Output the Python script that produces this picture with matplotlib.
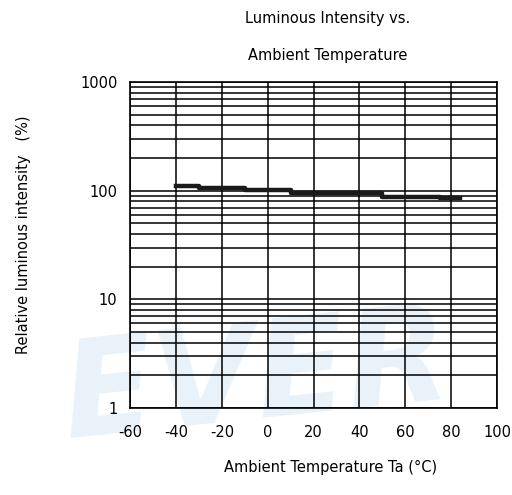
import matplotlib
matplotlib.use('Agg')
import matplotlib.pyplot as plt
from matplotlib.ticker import LogLocator, FixedLocator, NullFormatter

plt.rcParams['axes.unicode_minus'] = False

# Step curve
temp = [-40, -30, -10, 10, 50, 75, 84]
intensity = [111, 106, 102, 95, 88, 85, 85]

x_ticks = [-60, -40, -20, 0, 20, 40, 60, 80, 100]
y_ticks = [1, 10, 100, 1000]
y_labels = ['1', '10', '100', '1000']

fig = plt.figure(figsize=(5.12, 4.95), dpi=100)

# faint watermark behind the chart
fig.text(0.5, 0.23, 'EVER', fontsize=96, fontweight='bold', style='italic',
         color='#eaf2f9', ha='center', va='center', rotation=6, zorder=0)

ax = fig.add_axes([0.254, 0.176, 0.717, 0.658])
ax.set_zorder(2)
ax.patch.set_alpha(0)
ax.set_yscale('log')
ax.set_xlim(-60, 100)
ax.set_ylim(1, 1000)

ax.xaxis.set_major_locator(FixedLocator(x_ticks))
ax.yaxis.set_major_locator(FixedLocator(y_ticks))
ax.yaxis.set_minor_locator(LogLocator(base=10, subs=range(2, 10)))
ax.yaxis.set_minor_formatter(NullFormatter())
ax.set_yticklabels(y_labels)

ax.grid(which='major', axis='both', color='black', linewidth=1.1)
ax.grid(which='minor', axis='y', color='black', linewidth=1.1)
ax.tick_params(which='both', length=0, labelsize=10.5)
ax.tick_params(axis='x', pad=12)
ax.tick_params(axis='y', pad=9)
for s in ax.spines.values():
    s.set_linewidth(1.2)

ax.plot(temp, intensity, drawstyle='steps-post', color='#1a1a1a', linewidth=3.2)

fig.text(0.64, 0.962, 'Luminous Intensity vs.', ha='center', va='center', fontsize=10.5)
fig.text(0.64, 0.888, 'Ambient Temperature', ha='center', va='center', fontsize=10.5)
fig.text(0.045, 0.525, 'Relative luminous intensity   (%)', ha='center', va='center',
         rotation=90, fontsize=10.5)
fig.text(0.645, 0.055, 'Ambient Temperature Ta (°C)', ha='center', va='center', fontsize=10.5)

plt.savefig('out.png', dpi=100)
